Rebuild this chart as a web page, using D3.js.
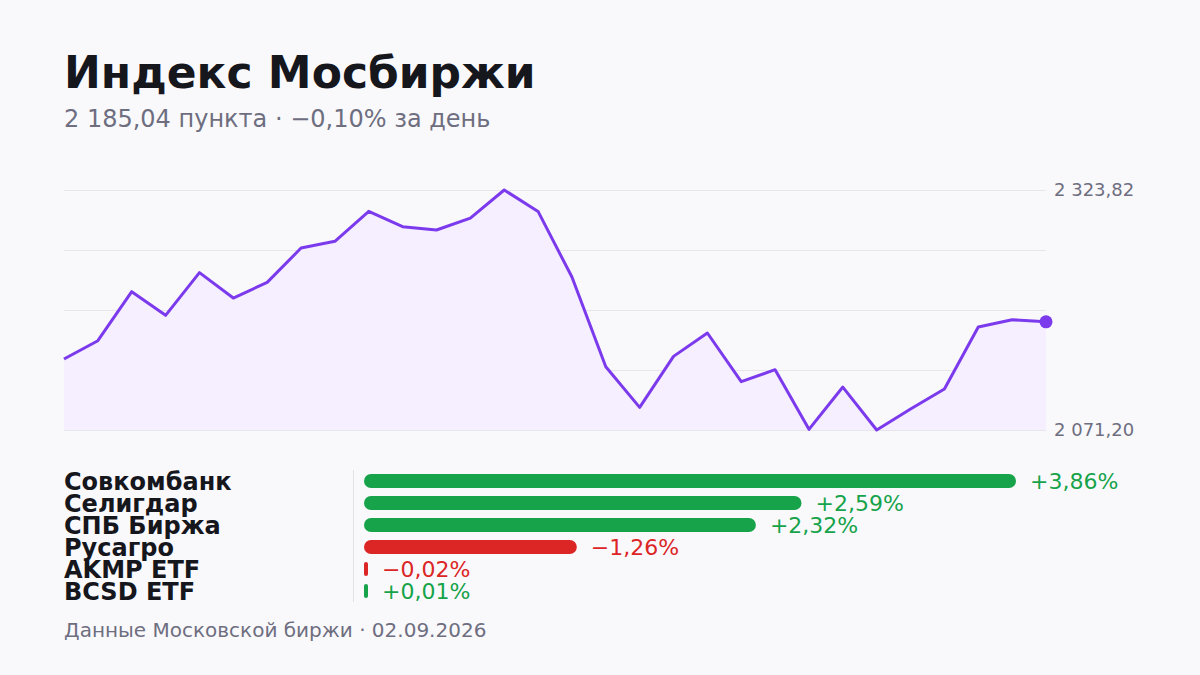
<!DOCTYPE html>
<html><head><meta charset="utf-8">
<script src="https://cdn.jsdelivr.net/npm/d3@7"></script>
<style>
html,body{margin:0;padding:0;background:#f9f9fc;}
svg{display:block;font-family:"DejaVu Sans",sans-serif;}
</style></head>
<body>
<svg id="c" width="1200" height="675"></svg>
<script>
// ---- data ----
const days = d3.range(1, 31);
const indexValues = [2145.9, 2165.2, 2216.8, 2191.9, 2236.8, 2210.1, 2226.6, 2262.7, 2269.8, 2301.3,
  2285.2, 2281.7, 2294.3, 2323.82, 2301.3, 2232.2, 2137.8, 2095.0, 2148.7, 2173.3,
  2122.1, 2134.7, 2071.9, 2116.4, 2071.20, 2093.3, 2114.3, 2179.6, 2187.23, 2185.04];
const dayChange = -0.10;
const stockNames = ["Совкомбанк", "Селигдар", "СПБ Биржа", "Русагро", "AKMP ETF", "BCSD ETF"];
const stockChanges = [3.86, 2.59, 2.32, -1.26, -0.02, 0.01];
const titleText = "Индекс Мосбиржи";
const footerText = "Данные Московской биржи · 02.09.2026";

// ---- setup ----
const ru = d3.formatLocale({decimal: ",", thousands: "\u00a0", grouping: [3], currency: ["", " ₽"], minus: "\u2212"});
const fmtNum = ru.format(",.2f");
const fmtPct = ru.format("+.2f");
const fmtPctPlain = ru.format(".2f");

const svg = d3.select("#c");
const ink = "#16161d", gray = "#6e6e80", purple = "#7c3aed", green = "#16a34a", red = "#dc2626";

svg.append("rect").attr("width", 1200).attr("height", 675).attr("fill", "#f9f9fc");

svg.append("text").attr("x", 64).attr("y", 88).attr("fill", ink)
  .attr("font-size", 44).attr("font-weight", "bold").text(titleText);

const last = indexValues[indexValues.length - 1];
svg.append("text").attr("x", 64).attr("y", 127).attr("fill", gray)
  .attr("font-size", 24)
  .text(`${fmtNum(last)} пункта · ${fmtPctPlain(dayChange)}% за день`);

// ---- line chart ----
const yMin = d3.min(indexValues), yMax = d3.max(indexValues);
const x = d3.scaleLinear().domain(d3.extent(days)).range([64, 1046]);
const y = d3.scaleLinear().domain([yMin, yMax]).range([430, 190]);
const pts = days.map((d, i) => ({d, v: indexValues[i]}));

const grid = d3.range(5).map(i => yMin + i * (yMax - yMin) / 4);
svg.append("g").selectAll("line").data(grid).join("line")
  .attr("x1", 64).attr("x2", 1046)
  .attr("y1", d => Math.round(y(d)) + 0.5).attr("y2", d => Math.round(y(d)) + 0.5)
  .attr("stroke", "#e6e6ec").attr("stroke-width", 1);

svg.append("path").datum(pts)
  .attr("d", d3.area().x(p => x(p.d)).y0(430).y1(p => y(p.v)))
  .attr("fill", "#f5efff");

svg.append("path").datum(pts)
  .attr("d", d3.line().x(p => x(p.d)).y(p => y(p.v)))
  .attr("fill", "none").attr("stroke", purple).attr("stroke-width", 3)
  .attr("stroke-linejoin", "round");

svg.append("circle").attr("cx", x(days[days.length - 1])).attr("cy", y(last))
  .attr("r", 6.5).attr("fill", purple);

const yAxis = d3.axisRight(y).tickValues([yMax, yMin]).tickSize(0).tickPadding(8)
  .tickFormat(d => fmtNum(d));
const ag = svg.append("g").attr("transform", "translate(1046,0)").call(yAxis);
ag.select(".domain").remove();
ag.selectAll("text").attr("fill", gray).attr("font-size", 18)
  .attr("font-family", "DejaVu Sans, sans-serif");

// ---- bars ----
const xb = d3.scaleLinear().domain([0, d3.max(stockChanges, Math.abs)]).range([364, 1016]);
const yb = d3.scaleBand().domain(stockNames).range([470, 602]).padding(0);
const rows = stockNames.map((n, i) => ({n, v: stockChanges[i]}));

svg.append("line").attr("x1", 353.5).attr("x2", 353.5).attr("y1", 470).attr("y2", 602)
  .attr("stroke", "#e0e0e6").attr("stroke-width", 1);

const rg = svg.append("g").selectAll("g").data(rows).join("g")
  .attr("transform", r => `translate(0,${yb(r.n) + yb.bandwidth() / 2})`);

rg.append("text").attr("x", 64).attr("y", 8.7).attr("fill", ink)
  .attr("font-size", 24).attr("font-weight", "bold").text(r => r.n);

const bw = r => Math.max(xb(Math.abs(r.v)) - xb(0), 4);
rg.append("rect").attr("x", xb(0)).attr("y", -7).attr("height", 14)
  .attr("width", bw).attr("rx", r => Math.min(7, bw(r) / 2))
  .attr("fill", r => r.v >= 0 ? green : red);

rg.append("text").attr("x", r => xb(0) + bw(r) + 14).attr("y", 8)
  .attr("font-size", 22).attr("fill", r => r.v >= 0 ? green : red)
  .text(r => fmtPct(r.v) + "%");

svg.append("text").attr("x", 64).attr("y", 637).attr("fill", gray)
  .attr("font-size", 20).text(footerText);
</script>
</body></html>
